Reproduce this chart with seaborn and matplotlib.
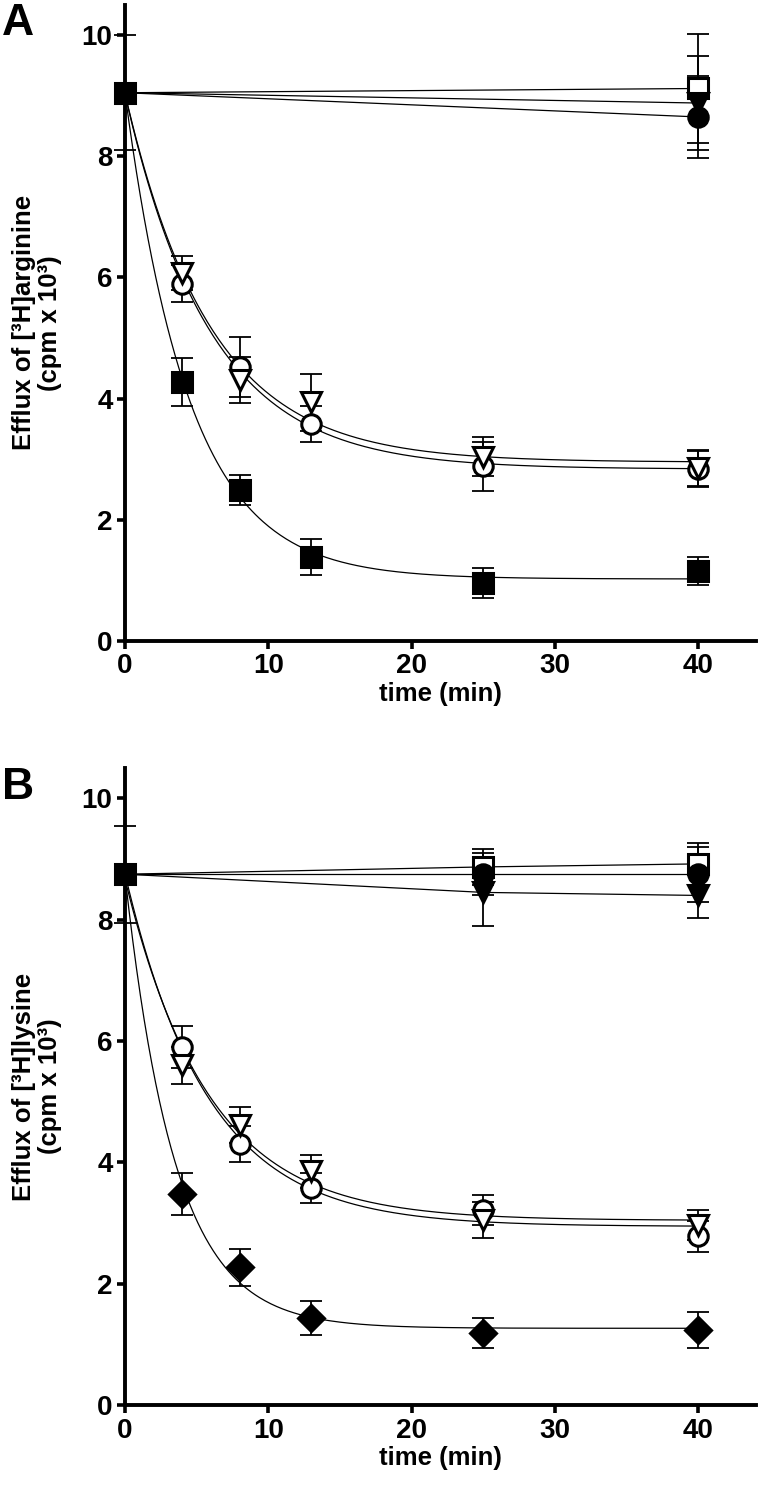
import numpy as np
import pandas as pd
import matplotlib
matplotlib.use("Agg")
import matplotlib.pyplot as plt
import seaborn as sns

sns.set_style("ticks")
plt.rcParams["font.family"] = ["Liberation Sans", "DejaVu Sans"]
plt.rcParams["font.weight"] = "bold"
for key in ["text.color", "axes.labelcolor", "xtick.color", "ytick.color", "axes.edgecolor"]:
    plt.rcParams[key] = "black"

# time points (min)
times = [4, 8, 13, 25, 40]

# Panel A: [3H]arginine efflux (cpm x 10^3)
a_t0, a_t0_err = 9.05, 0.95
a_open_circle = [5.90, 4.52, 3.58, 2.88, 2.84]
a_open_circle_err = [0.30, 0.50, 0.30, 0.40, 0.30]
a_open_tri = [6.08, 4.30, 3.94, 3.04, 2.85]
a_open_tri_err = [0.28, 0.38, 0.47, 0.32, 0.30]
a_filled_square = [4.27, 2.49, 1.38, 0.95, 1.15]
a_filled_square_err = [0.40, 0.25, 0.30, 0.25, 0.23]
a_flat_times = [40]
a_open_square = [9.12]
a_open_square_err = [0.90]
a_filled_tri = [8.88]
a_filled_tri_err = [0.78]
a_filled_circle = [8.65]
a_filled_circle_err = [0.67]

# Panel B: [3H]lysine efflux (cpm x 10^3)
b_t0, b_t0_err = 8.75, 0.80
b_open_circle = [5.90, 4.30, 3.58, 3.22, 2.78]
b_open_circle_err = [0.35, 0.30, 0.25, 0.25, 0.25]
b_open_tri = [5.60, 4.62, 3.85, 3.05, 2.97]
b_open_tri_err = [0.30, 0.30, 0.28, 0.30, 0.25]
b_diamond = [3.48, 2.27, 1.43, 1.19, 1.24]
b_diamond_err = [0.35, 0.30, 0.28, 0.25, 0.30]
b_flat_times = [25, 40]
b_open_square = [8.87, 8.92]
b_open_square_err = [0.30, 0.35]
b_filled_circle = [8.75, 8.75]
b_filled_circle_err = [0.35, 0.45]
b_filled_tri = [8.45, 8.40]
b_filled_tri_err = [0.55, 0.38]


def fit_decay(t, y):
    # one-phase decay: y = plateau + (y0 - plateau) * exp(-k t), grid over k
    t = np.asarray(t, float)
    y = np.asarray(y, float)
    best = None
    for k in np.linspace(0.01, 2.0, 2000):
        e = np.exp(-k * t)
        X = np.column_stack([e, 1 - e])
        coef, *_ = np.linalg.lstsq(X, y, rcond=None)
        sse = np.sum((X @ coef - y) ** 2)
        if best is None or sse < best[0]:
            best = (sse, k, coef)
    _, k, (y0, plat) = best
    tt = np.linspace(0, 40, 300)
    return pd.DataFrame({"t": tt, "y": plat + (y0 - plat) * np.exp(-k * tt)})


def draw_series(ax, t, y, err, marker, filled, ms=14):
    ax.errorbar(t, y, yerr=err, fmt="none", ecolor="black", elinewidth=1.3,
                capsize=8, capthick=1.3, zorder=3, clip_on=False)
    ax.plot(t, y, linestyle="none", marker=marker, markersize=ms,
            markerfacecolor="black" if filled else "white",
            markeredgecolor="black", markeredgewidth=2.2, zorder=4, clip_on=False)


MS = {"s": 14.5, "D": 13, "o": 14, "v": 14}


def panel(ax, t0, t0_err, decays, flats, flat_times, ylabel):
    for vals, err, marker, filled in flats:
        df = pd.DataFrame({"t": [0] + flat_times, "y": [t0] + vals})
        sns.lineplot(data=df, x="t", y="y", ax=ax, color="black", lw=0.9, zorder=2)
    for vals, err, marker, filled in decays:
        df = fit_decay([0] + times, [t0] + vals)
        sns.lineplot(data=df, x="t", y="y", ax=ax, color="black", lw=0.9, zorder=2)
    for vals, err, marker, filled in flats:
        draw_series(ax, flat_times, vals, err, marker, filled, ms=MS[marker])
    for vals, err, marker, filled in decays:
        draw_series(ax, times, vals, err, marker, filled, ms=MS[marker])
    draw_series(ax, [0], [t0], [t0_err], "s", True, ms=15)

    ax.set_xlim(0, 44)
    ax.set_ylim(0, 10.5)
    ax.set_xticks([0, 10, 20, 30, 40])
    ax.set_yticks([0, 2, 4, 6, 8, 10])
    ax.tick_params(direction="out", length=6, width=2.6, labelsize=20, pad=3)
    for s in ["left", "bottom"]:
        ax.spines[s].set_linewidth(2.8)
    sns.despine(ax=ax)
    ax.set_xlabel("time (min)", fontsize=18.5, fontweight="bold", labelpad=2)
    ax.set_ylabel(ylabel, fontsize=18.5, fontweight="bold", labelpad=14,
                  linespacing=1.1)


fig = plt.figure(figsize=(7.6, 14.87), dpi=100)
ax_a = fig.add_axes([0.1645, 0.569, 0.83, 0.4277])
ax_b = fig.add_axes([0.1645, 0.0551, 0.83, 0.4284])

panel(ax_a, a_t0, a_t0_err,
      [(a_open_circle, a_open_circle_err, "o", False),
       (a_open_tri, a_open_tri_err, "v", False),
       (a_filled_square, a_filled_square_err, "s", True)],
      [(a_open_square, a_open_square_err, "s", False),
       (a_filled_tri, a_filled_tri_err, "v", True),
       (a_filled_circle, a_filled_circle_err, "o", True)],
      a_flat_times, "Efflux of [³H]arginine\n(cpm x 10³)")

panel(ax_b, b_t0, b_t0_err,
      [(b_open_circle, b_open_circle_err, "o", False),
       (b_open_tri, b_open_tri_err, "v", False),
       (b_diamond, b_diamond_err, "D", True)],
      [(b_open_square, b_open_square_err, "s", False),
       (b_filled_circle, b_filled_circle_err, "o", True),
       (b_filled_tri, b_filled_tri_err, "v", True)],
      b_flat_times, "Efflux of [³H]lysine\n(cpm x 10³)")

fig.text(0.003, 0.998, "A", fontsize=32, fontweight="bold", va="top", ha="left")
fig.text(0.003, 0.484, "B", fontsize=32, fontweight="bold", va="top", ha="left")

fig.savefig("out.png", dpi=100)
